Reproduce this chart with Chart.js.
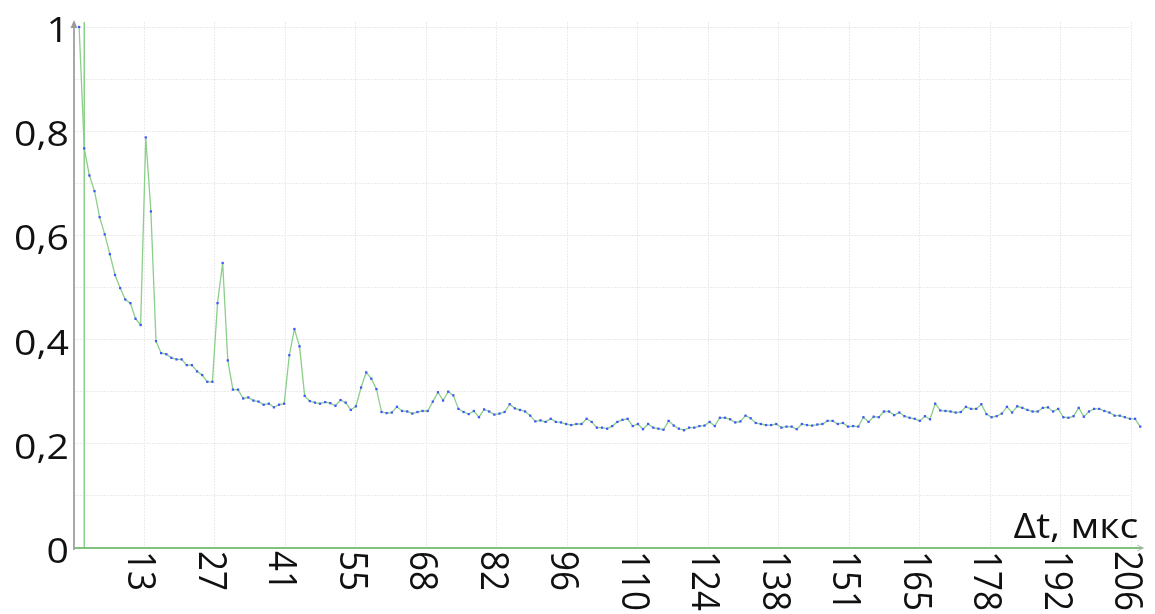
<!DOCTYPE html>
<html>
<head>
<meta charset="utf-8">
<script src="https://cdn.jsdelivr.net/npm/chart.js@4.4.1/dist/chart.umd.min.js"></script>
<style>
  html, body { margin: 0; padding: 0; background: #ffffff; }
  #wrap { width: 1155px; height: 614px; position: relative; }
</style>
</head>
<body>
<div id="wrap"><canvas id="chart"></canvas></div>
<script>
// Normalised correlation per sample step
const correlation = [
  1.000, 0.767, 0.715, 0.685, 0.635, 0.602, 0.564, 0.524, 0.499, 0.477,
  0.470, 0.440, 0.428, 0.788, 0.646, 0.397, 0.374, 0.372, 0.365, 0.362,
  0.362, 0.351, 0.351, 0.339, 0.332, 0.319, 0.319, 0.470, 0.547, 0.360,
  0.304, 0.304, 0.287, 0.289, 0.283, 0.281, 0.275, 0.277, 0.270, 0.275,
  0.277, 0.370, 0.420, 0.387, 0.292, 0.282, 0.279, 0.277, 0.280, 0.278,
  0.273, 0.284, 0.279, 0.265, 0.272,
  0.308, 0.337, 0.325, 0.305, 0.261, 0.259, 0.260, 0.271, 0.263, 0.262,
  0.258, 0.261, 0.263, 0.263, 0.281, 0.299, 0.283, 0.300, 0.293, 0.267,
  0.261, 0.257, 0.263, 0.251, 0.266, 0.262, 0.256, 0.258, 0.261, 0.276,
  0.268, 0.265, 0.262, 0.254, 0.243, 0.245, 0.242, 0.248, 0.242, 0.241,
  0.238, 0.236, 0.238, 0.238,
  0.248, 0.242, 0.231, 0.231, 0.229, 0.234, 0.242, 0.246, 0.248, 0.234,
  0.238, 0.228, 0.238, 0.231, 0.229, 0.227, 0.244, 0.235, 0.229, 0.226,
  0.231, 0.231, 0.234, 0.235, 0.242, 0.234, 0.250, 0.250, 0.247, 0.241,
  0.243, 0.254, 0.249, 0.240, 0.238, 0.236, 0.236, 0.238, 0.231, 0.233,
  0.233, 0.228, 0.238, 0.236, 0.235, 0.237, 0.238, 0.244, 0.244, 0.238,
  0.240, 0.233, 0.234, 0.233, 0.251, 0.242, 0.252, 0.251, 0.262, 0.262,
  0.255, 0.260, 0.253, 0.250, 0.248, 0.244, 0.253, 0.247, 0.277, 0.264,
  0.263, 0.262, 0.260, 0.261, 0.271, 0.267, 0.267, 0.276, 0.257, 0.251,
  0.253, 0.258, 0.271, 0.260, 0.272, 0.269, 0.265, 0.262, 0.262, 0.269,
  0.270, 0.262, 0.267, 0.251, 0.250, 0.253, 0.269, 0.252, 0.262, 0.267,
  0.267, 0.263, 0.260, 0.254, 0.254, 0.251, 0.248, 0.248, 0.233
];

// Axis labelling
const xTickLabels = ['13', '27', '41', '55', '68', '82', '96', '110', '124', '138', '151', '165', '178', '192', '206'];
const yTickValues = [0, 0.2, 0.4, 0.6, 0.8, 1];
const yTickLabels = ['0', '0,2', '0,4', '0,6', '0,8', '1'];
const xAxisTitle = 'Δt, мкс';

// Sample numbers along the time axis (1-based)
const sampleIndex = correlation.map((_, i) => i + 1);
const markerSample = sampleIndex[1];

// Scale extents
const X_LAST_TICK = 206.2;
const Y_TOP = 1.0096;

// Styles
const GREEN = '#8bcf8b';
const AXIS_GREEN = '#7fc27f';
const POINT_BLUE = '#3f55ff';
const GRID = '#ebebeb';
const AXIS_GREY = '#a8a8a8';
const FONT = '35px "Open Sans", "Noto Sans", sans-serif';
const TEXT_STRETCH = 1.12;

function stretchedText(ctx, text, px, py, rot, align) {
  ctx.save();
  ctx.translate(px, py);
  ctx.scale(TEXT_STRETCH, 1);
  ctx.rotate(rot);
  ctx.textAlign = align;
  ctx.textBaseline = 'alphabetic';
  ctx.fillText(text, 0, 0);
  ctx.restore();
}

function segment(ctx, x1, y1, x2, y2) {
  ctx.beginPath();
  ctx.moveTo(x1, y1);
  ctx.lineTo(x2, y2);
  ctx.stroke();
}

const axisDecor = {
  id: 'axisDecor',
  beforeDatasetsDraw(chart) {
    const { ctx, chartArea: a, scales: { x } } = chart;
    ctx.save();
    // cursor at the second sample
    const mx = x.getPixelForValue(markerSample);
    ctx.strokeStyle = GREEN;
    ctx.lineWidth = 1.5;
    segment(ctx, mx, a.top, mx, a.bottom);

    // horizontal axis with arrow
    const xEnd = x.getPixelForValue(sampleIndex[sampleIndex.length - 1]) + 3;
    ctx.strokeStyle = AXIS_GREEN;
    ctx.lineWidth = 2;
    segment(ctx, a.left, a.bottom, xEnd, a.bottom);
    ctx.strokeStyle = '#b5b5b5';
    ctx.lineWidth = 1;
    segment(ctx, xEnd - 6, a.bottom - 3, xEnd, a.bottom);
    segment(ctx, xEnd - 6, a.bottom + 3, xEnd, a.bottom);

    // vertical axis with arrow
    ctx.strokeStyle = AXIS_GREY;
    ctx.lineWidth = 2;
    segment(ctx, a.left, a.bottom + 2, a.left, a.top + 2);
    ctx.fillStyle = '#9a9a9a';
    ctx.beginPath();
    ctx.moveTo(a.left, a.top - 2);
    ctx.lineTo(a.left - 3.5, a.top + 6);
    ctx.lineTo(a.left + 3.5, a.top + 6);
    ctx.closePath();
    ctx.fill();
    ctx.restore();
  },
  afterDatasetsDraw(chart) {
    // markers that sit past the last grid line are skipped by the default pass
    const { ctx, chartArea: a } = chart;
    const full = { left: 0, top: 0, right: chart.width, bottom: chart.height };
    chart.getDatasetMeta(0).data.forEach(p => {
      if (p.x > a.right) p.draw(ctx, full);
    });
  },
  afterDraw(chart) {
    const { ctx, chartArea: a, scales: { x, y } } = chart;
    ctx.save();
    ctx.font = FONT;
    ctx.fillStyle = '#111111';

    // value labels
    yTickValues.forEach((v, i) => {
      const py = y.getPixelForValue(v);
      stretchedText(ctx, yTickLabels[i], a.left - 5, py + 15, 0, 'right');
    });

    // time labels, rotated to read downwards
    x.ticks.slice(1).forEach((t, i) => {
      const gx = x.getPixelForValue(t.value);
      stretchedText(ctx, xTickLabels[i], gx - 16, a.bottom + 3, Math.PI / 2, 'left');
    });

    // axis title
    const tx = x.getPixelForValue(sampleIndex[sampleIndex.length - 1]);
    stretchedText(ctx, xAxisTitle, tx - 2, a.bottom - 10, 0, 'right');
    ctx.restore();
  }
};

new Chart(document.getElementById('chart'), {
  type: 'line',
  data: {
    datasets: [{
      data: sampleIndex.map((s, i) => ({ x: s, y: correlation[i] })),
      borderColor: GREEN,
      borderWidth: 1.3,
      tension: 0,
      pointRadius: 1.6,
      pointBorderWidth: 0,
      pointBackgroundColor: POINT_BLUE,
      pointStyle: 'rect',
      clip: false
    }]
  },
  options: {
    responsive: true,
    maintainAspectRatio: false,
    animation: false,
    events: [],
    layout: { padding: { left: 74, right: 24, top: 22, bottom: 66 } },
    plugins: { legend: { display: false }, tooltip: { enabled: false } },
    scales: {
      x: {
        type: 'linear',
        bounds: 'data',
        afterDataLimits(scale) { scale.min = 0; scale.max = X_LAST_TICK; },
        afterBuildTicks(scale) {
          const ticks = [{ value: 0 }];
          xTickLabels.forEach((_, k) => ticks.push({ value: X_LAST_TICK * (k + 1) / xTickLabels.length }));
          scale.ticks = ticks;
          scale.min = 0;
          scale.max = X_LAST_TICK;
        },
        ticks: { display: false },
        grid: { color: GRID, lineWidth: 1, drawTicks: false },
        border: { display: false, dash: [2, 1] }
      },
      y: {
        type: 'linear',
        min: 0,
        max: Y_TOP,
        bounds: 'data',
        afterBuildTicks(scale) {
          const ticks = [];
          for (let k = 0; k <= 10; k++) ticks.push({ value: k / 10 });
          scale.ticks = ticks;
        },
        ticks: { display: false },
        grid: { color: GRID, lineWidth: 1, drawTicks: false },
        border: { display: false, dash: [2, 1] }
      }
    }
  },
  plugins: [axisDecor]
});
</script>
</body>
</html>
